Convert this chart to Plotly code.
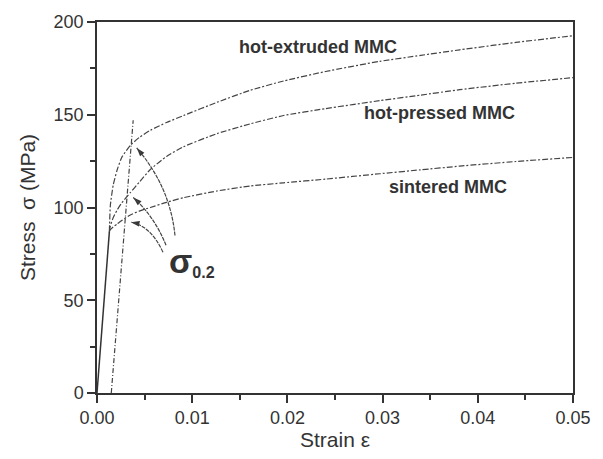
import math
import plotly.graph_objects as go

# ---- data ----
strain = [0.0013, 0.0014, 0.0017, 0.0021, 0.0026, 0.0035, 0.0045, 0.0056, 0.0073, 0.0091,
          0.0126, 0.0161, 0.0196, 0.024, 0.0297, 0.034, 0.0381, 0.044, 0.05]
hot_extruded = [87, 101, 112, 120, 127, 133.5, 138, 141.6, 145.8, 149.6,
                156.7, 163.2, 168.2, 173.3, 178.8, 182, 185, 189, 192.6]
hot_pressed = [87, 90, 94.5, 98.5, 102.5, 108, 114, 120.5, 127.5, 132.8,
               139.8, 145.1, 149.6, 153.3, 157.6, 160.6, 163.5, 167, 170]
sintered = [87, 88, 89.5, 91, 93, 96, 98.2, 100, 102.8, 105.3,
            108.9, 111.6, 113.3, 115.3, 118.2, 120.3, 122.3, 124.8, 127]

elastic_strain = [0.0, 0.0013]
elastic_stress = [0, 87]
offset_strain = [0.0015, 0.0038]
offset_stress = [0, 147]

curve_labels = ["hot-extruded MMC", "hot-pressed MMC", "sintered MMC"]
label_strain = [0.0232, 0.0360, 0.0369]
label_stress = [186.7, 151.2, 110.9]

# curved arrows: head, control, tail (strain, stress)
arrow_head = [(0.00417, 132.1), (0.00381, 105.4), (0.00357, 92.1)]
arrow_ctrl = [(0.00769, 111.1), (0.00602, 95.3), (0.00567, 90.0)]
arrow_tail = [(0.00819, 84.9), (0.00725, 79.6), (0.00693, 75.9)]

x_ticks = [0.0, 0.01, 0.02, 0.03, 0.04, 0.05]
y_ticks = [0, 50, 100, 150, 200]

FONT = "Liberation Sans, Arial, sans-serif"
TXT = "#333333"
LINE = "#444444"

W, H = 603, 459
M = dict(l=97, r=30, t=20, b=62)
XR, YR = [0, 0.05], [0, 200]
sx = (W - M["l"] - M["r"]) / (XR[1] - XR[0])
sy = (H - M["t"] - M["b"]) / (YR[1] - YR[0])

fig = go.Figure()
for ys in (hot_extruded, hot_pressed, sintered):
    fig.add_trace(go.Scatter(x=strain, y=ys, mode="lines",
                             line=dict(color=LINE, width=1.2, dash="6px,2px,2px,2px",
                                       shape="spline", smoothing=0.5),
                             showlegend=False, hoverinfo="skip"))
fig.add_trace(go.Scatter(x=elastic_strain, y=elastic_stress, mode="lines",
                         line=dict(color="#333333", width=1.5),
                         showlegend=False, hoverinfo="skip"))
fig.add_trace(go.Scatter(x=offset_strain, y=offset_stress, mode="lines",
                         line=dict(color=LINE, width=1.2, dash="5px,2px,1px,2px"),
                         showlegend=False, hoverinfo="skip"))

shapes = []
angles = []
for h, c, t in zip(arrow_head, arrow_ctrl, arrow_tail):
    shapes.append(dict(type="path", xref="x", yref="y",
                       path=f"M {t[0]},{t[1]} Q {c[0]},{c[1]} {h[0]},{h[1]}",
                       line=dict(color=LINE, width=1.2, dash="4px,1px")))
    dx = (h[0] - c[0]) * sx
    dy_up = (h[1] - c[1]) * sy
    angles.append(math.degrees(math.atan2(dx, dy_up)))

fig.add_trace(go.Scatter(x=[h[0] for h in arrow_head], y=[h[1] for h in arrow_head],
                         mode="markers",
                         marker=dict(symbol="arrow", size=9, angle=angles, color="#333333",
                                     line=dict(width=0)),
                         showlegend=False, hoverinfo="skip"))

annotations = []
for txt, lx, ly in zip(curve_labels, label_strain, label_stress):
    annotations.append(dict(x=lx, y=ly, xref="x", yref="y", text=f"<b>{txt}</b>",
                            showarrow=False, font=dict(family=FONT, size=18, color=TXT)))

annotations.append(dict(x=0.0074, y=71, xref="x", yref="y", xanchor="left", yanchor="middle",
                        text="<b><span style='font-size:34px'>σ</span><sub>0.2</sub></b>",
                        showarrow=False, font=dict(family=FONT, size=23, color=TXT)))

fig.update_layout(
    width=W, height=H,
    margin=M,
    paper_bgcolor="white", plot_bgcolor="white",
    font=dict(family=FONT, color=TXT),
    shapes=shapes, annotations=annotations,
    xaxis=dict(range=XR, tickvals=x_ticks, ticktext=[f"{v:.2f}" for v in x_ticks],
               ticks="outside", ticklen=8, tickwidth=1.5, tickcolor="#333",
               minor=dict(dtick=0.005, ticks="outside", ticklen=5, tickwidth=1.5, tickcolor="#333"),
               showline=True, linecolor="#333", linewidth=1.5, mirror=True,
               showgrid=False, zeroline=False,
               tickfont=dict(size=18, color=TXT),
               title=dict(text="Strain ε", font=dict(size=21, color=TXT), standoff=4)),
    yaxis=dict(range=YR, tickvals=y_ticks,
               ticks="outside", ticklen=8, tickwidth=1.5, tickcolor="#333",
               minor=dict(dtick=25, ticks="outside", ticklen=5, tickwidth=1.5, tickcolor="#333"),
               showline=True, linecolor="#333", linewidth=1.5, mirror=True,
               showgrid=False, zeroline=False,
               tickfont=dict(size=18, color=TXT),
               title=dict(text="Stress  σ (MPa)", font=dict(size=21, color=TXT), standoff=12)),
)

fig.write_html("out.html")
